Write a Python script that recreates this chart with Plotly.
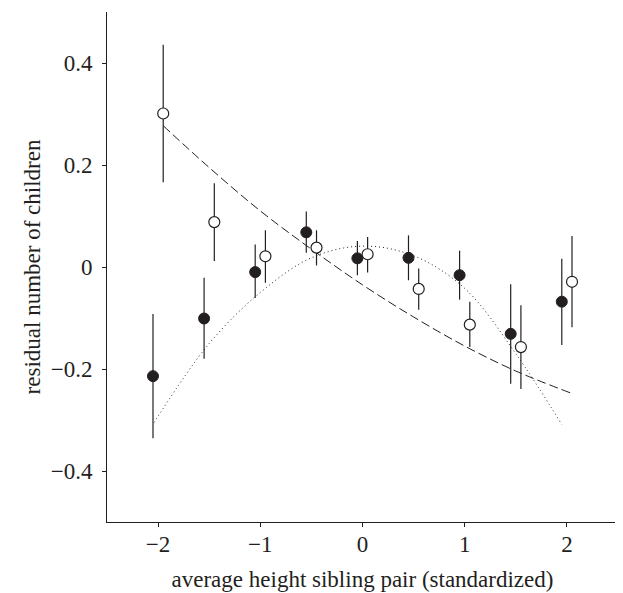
import plotly.graph_objects as go

# Filled circles (one group)
filled_x = [-2.05, -1.55, -1.05, -0.55, -0.05, 0.45, 0.95, 1.45, 1.95]
filled_y = [-0.214, -0.101, -0.010, 0.068, 0.017, 0.018, -0.016, -0.131, -0.068]
filled_hi = [-0.092, -0.021, 0.044, 0.109, 0.051, 0.062, 0.032, -0.034, 0.016]
filled_lo = [-0.336, -0.180, -0.061, 0.028, -0.016, -0.026, -0.064, -0.229, -0.153]

# Open circles (other group)
open_x = [-1.95, -1.45, -0.95, -0.45, 0.05, 0.55, 1.05, 1.55, 2.05]
open_y = [0.301, 0.088, 0.021, 0.038, 0.025, -0.043, -0.113, -0.157, -0.029]
open_hi = [0.436, 0.164, 0.072, 0.072, 0.059, -0.003, -0.068, -0.075, 0.061]
open_lo = [0.166, 0.012, -0.031, 0.003, -0.011, -0.084, -0.157, -0.239, -0.118]

# Fitted curves
dashed_x = [-1.95, -1.5, -1.0, -0.5, 0.0, 0.5, 1.0, 1.5, 2.05]
dashed_y = [0.277, 0.195, 0.110, 0.035, -0.035, -0.098, -0.155, -0.204, -0.248]
dotted_x = [-2.04, -1.5, -1.0, -0.5, 0.0, 0.5, 1.0, 1.5, 1.95]
dotted_y = [-0.305, -0.150, -0.050, 0.018, 0.041, 0.022, -0.042, -0.170, -0.309]

x_ticks = [-2, -1, 0, 1, 2]
x_ticktext = ["\u22122", "\u22121", "0", "1", "2"]
y_ticks = [-0.4, -0.2, 0, 0.2, 0.4]
y_ticktext = ["\u22120.4", "\u22120.2", "0", "0.2", "0.4"]

INK = "#231f20"
FONT = "Liberation Serif, Times New Roman, serif"
FS = 23

fig = go.Figure()

fig.add_trace(go.Scatter(
    x=dashed_x, y=dashed_y, mode="lines", line_shape="spline",
    line=dict(color=INK, width=1, dash="9px,4px"), hoverinfo="skip", showlegend=False))
fig.add_trace(go.Scatter(
    x=dotted_x, y=dotted_y, mode="lines", line_shape="spline",
    line=dict(color=INK, width=1, dash="1px,3px"), hoverinfo="skip", showlegend=False))

fig.add_trace(go.Scatter(
    x=filled_x, y=filled_y, mode="markers",
    marker=dict(symbol="circle", size=11, color=INK, line=dict(color=INK, width=1)),
    error_y=dict(type="data", symmetric=False,
                 array=[h - v for h, v in zip(filled_hi, filled_y)],
                 arrayminus=[v - l for v, l in zip(filled_y, filled_lo)],
                 color=INK, thickness=1.2, width=0),
    showlegend=False))
fig.add_trace(go.Scatter(
    x=open_x, y=open_y, mode="markers",
    marker=dict(symbol="circle", size=11, color="white", line=dict(color=INK, width=1.2)),
    error_y=dict(type="data", symmetric=False,
                 array=[h - v for h, v in zip(open_hi, open_y)],
                 arrayminus=[v - l for v, l in zip(open_y, open_lo)],
                 color=INK, thickness=1.2, width=0),
    showlegend=False))

axis_common = dict(showline=True, linecolor=INK, linewidth=1, ticks="outside", ticklen=4,
                   tickwidth=1, tickcolor=INK, showgrid=False, zeroline=False,
                   automargin=False,
                   tickfont=dict(family=FONT, size=FS, color=INK))

# The page body has an 8px margin, so the figure is sized to fit the 623x593 window
fig.update_layout(
    width=615, height=585,
    margin=dict(l=99, r=5, t=4, b=71),
    paper_bgcolor="white", plot_bgcolor="white",
    font=dict(family=FONT, size=FS, color=INK),
    xaxis=dict(range=[-2.5, 2.5], tickvals=x_ticks, ticktext=x_ticktext,
               ticklabelstandoff=-3,
               title=dict(text="average height sibling pair (standardized)",
                          font=dict(family=FONT, size=FS, color=INK), standoff=15),
               **axis_common),
    yaxis=dict(range=[-0.5, 0.5], tickvals=y_ticks, ticktext=y_ticktext,
               ticklabelstandoff=5,
               title=dict(text="residual number of children",
                          font=dict(family=FONT, size=FS, color=INK), standoff=3),
               **axis_common),
)

fig.write_html("out.html")
